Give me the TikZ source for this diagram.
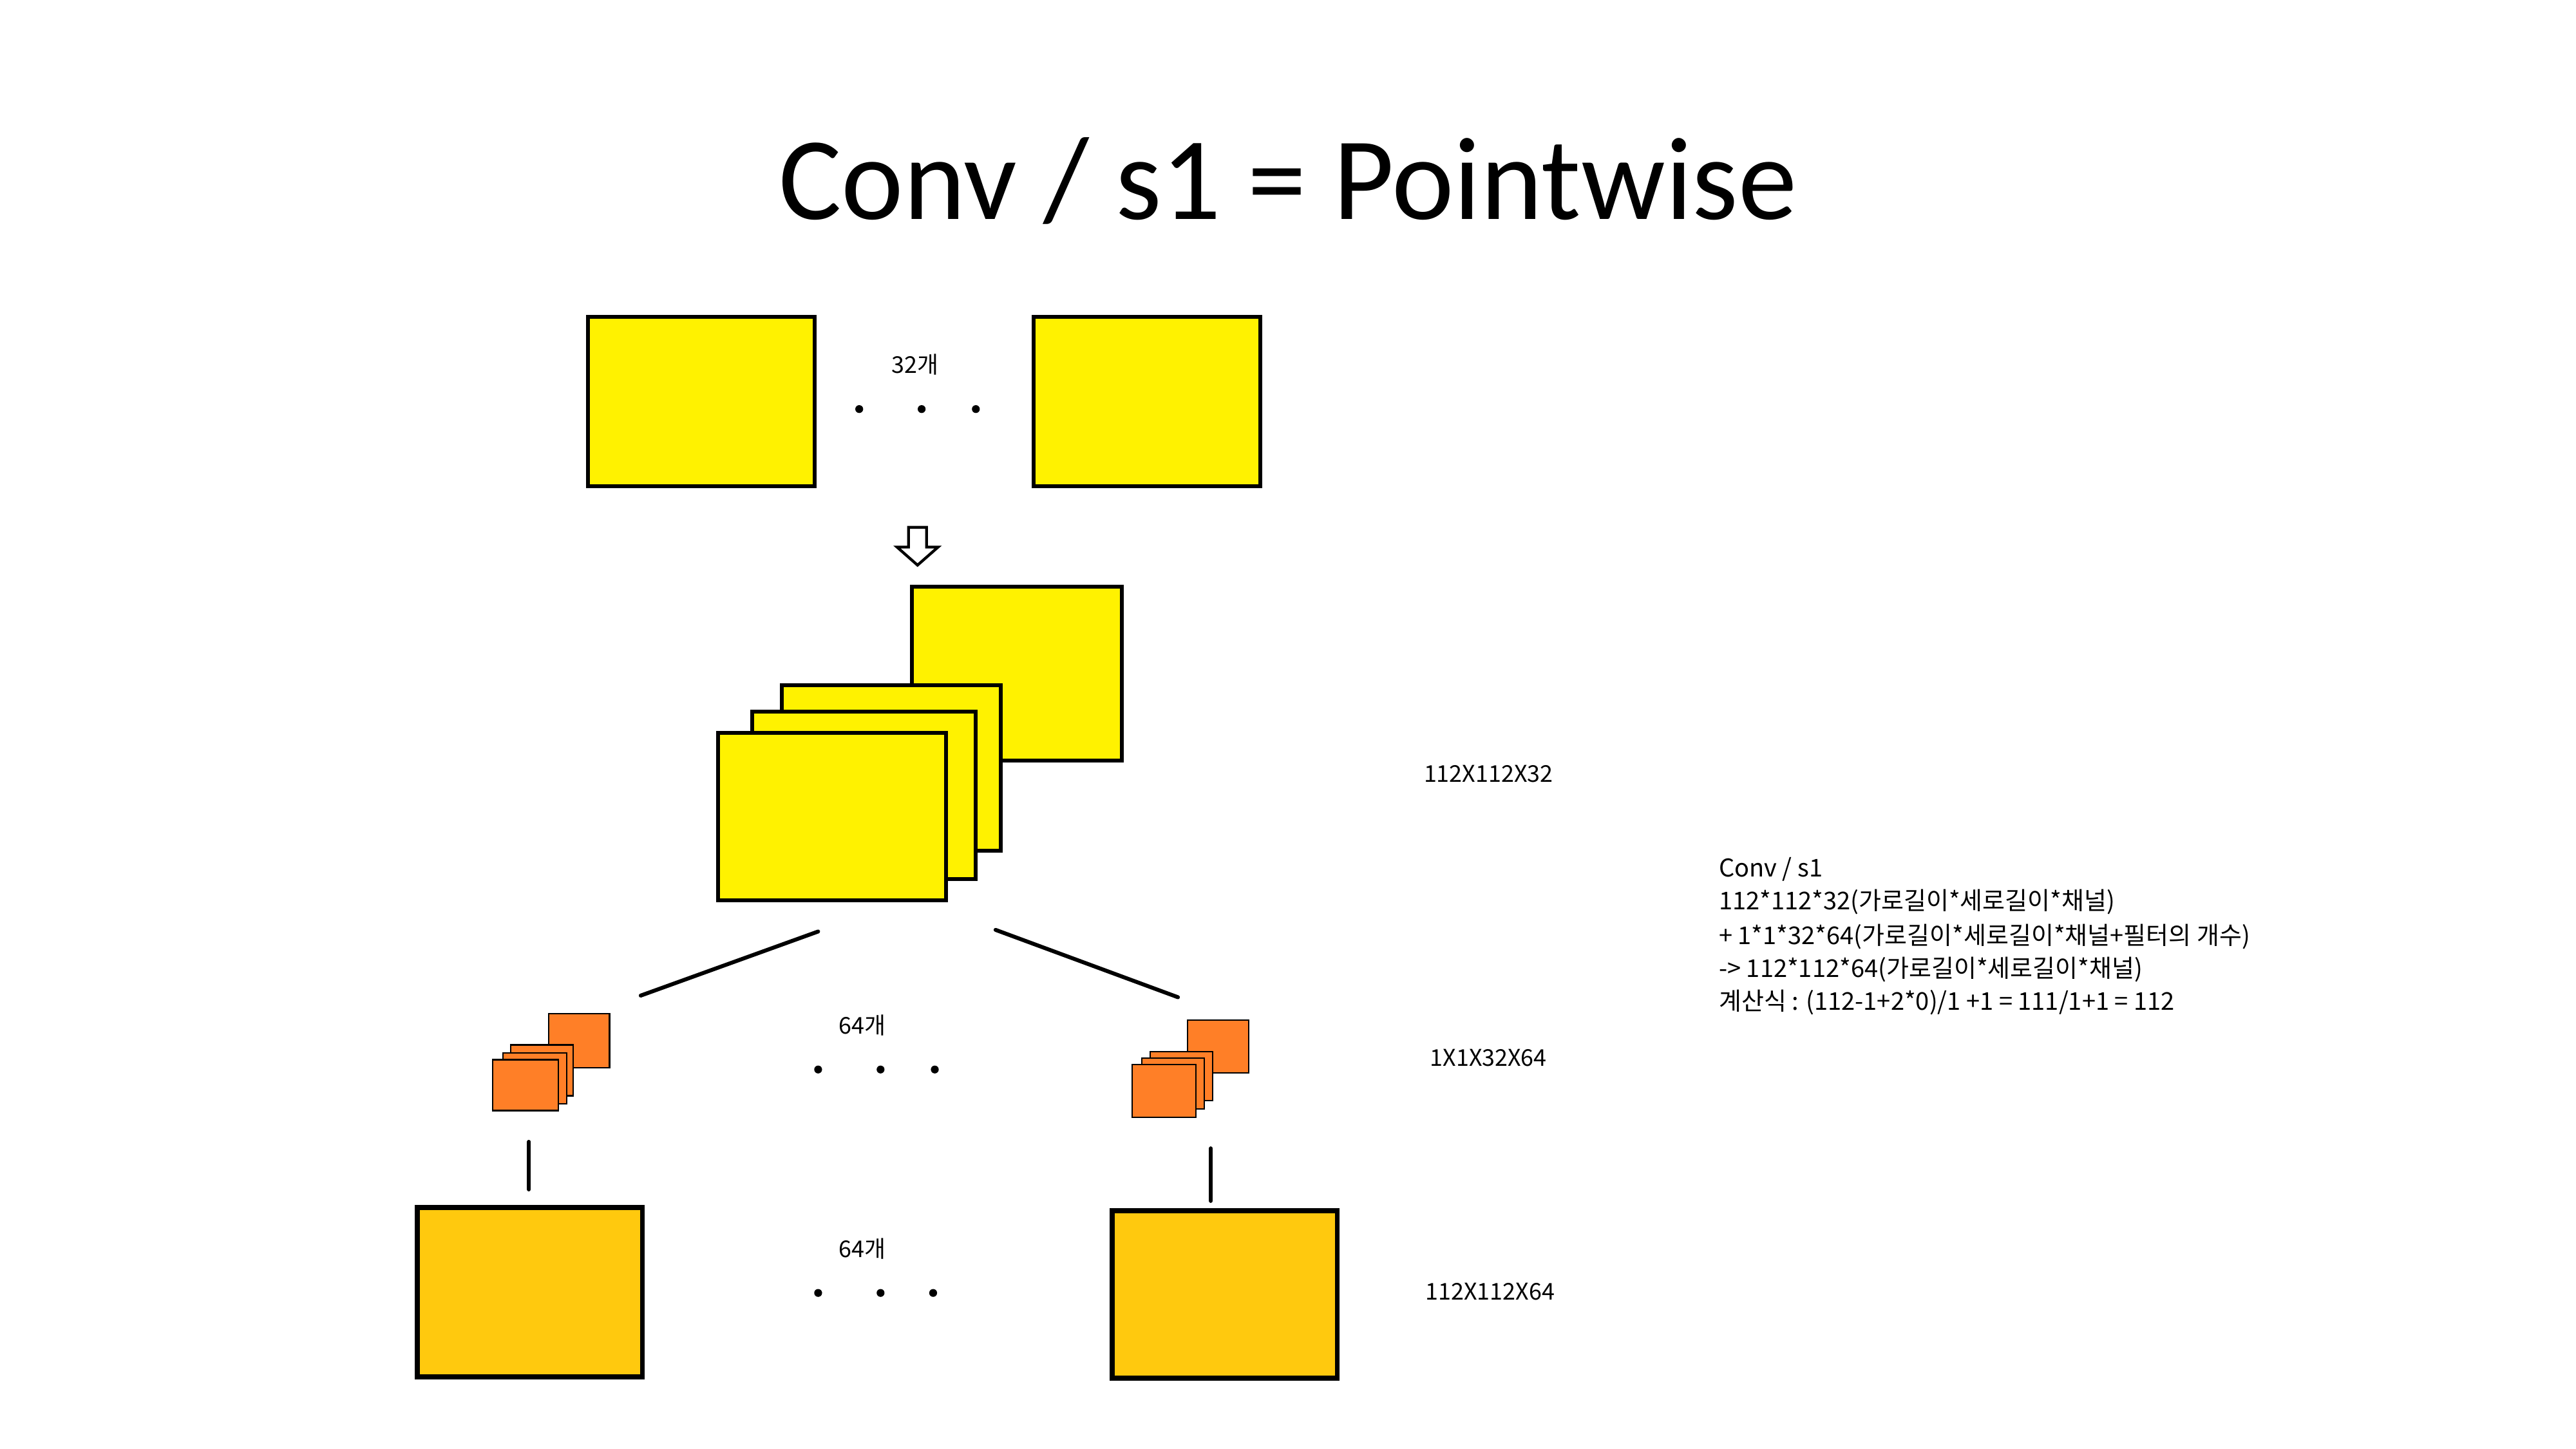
\documentclass[tikz,border=0pt]{standalone}
\usepackage{fontspec}
\setmainfont{Carlito}
\newfontfamily\kr{Noto Sans CJK KR}
\definecolor{ylw}{HTML}{FFF200}
\definecolor{gold}{HTML}{FFC90E}
\definecolor{orng}{HTML}{FF7F27}
\newcommand\mybox[6]{\node[#1, anchor=north west, minimum width={(#5-#3)*0.025cm}, minimum height={(#6-#4)*0.025cm}] (#2) at (#3,#4) {};}
\begin{document}
\begin{tikzpicture}[x=0.025cm,y=-0.025cm,
  ybox/.style={draw=black, fill=ylw, line width=1.7pt, inner sep=0pt, outer sep=0pt},
  gbox/.style={draw=black, fill=gold, line width=2.2pt, inner sep=0pt, outer sep=0pt},
  obox/.style={draw=black, fill=orng, line width=0.6pt, inner sep=0pt, outer sep=0pt},
  conn/.style={line width=1.7pt, line cap=round},
  small/.style={font=\kr\fontsize{10}{12}\selectfont, inner sep=0pt},
  note/.style={font=\kr\fontsize{10.6}{12}\selectfont, inner sep=0pt, anchor=west},
  dotmark/.style={circle, fill=black, inner sep=0pt, minimum size=0.12cm}]
\useasboundingbox (0,0) rectangle (1568,882);
\fill[white] (0,0) rectangle (1568,882);
% title
\node[font=\fontsize{51}{56}\selectfont, inner sep=0pt] (title) at (784,110) {Conv / s1 = Pointwise};
% top boxes
\mybox{ybox}{t1}{358}{193}{496}{296}
\mybox{ybox}{t2}{629}{193}{767}{296}
\node[small] (n32) at (557,222) {32개};
\node[dotmark] (d1) at (523,249) {};
\node[dotmark] (d2) at (561,249) {};
\node[dotmark] (d3) at (594,249) {};
% hollow arrow
\draw[line width=1.2pt, line join=miter, fill=white] (553,321) -- (564,321) -- (564,333) -- (571,333) -- (558.5,344) -- (546,333) -- (553,333) -- cycle;
% stack
\mybox{ybox}{s4}{555}{357}{683}{463}
\mybox{ybox}{s3}{476}{417}{609}{518}
\mybox{ybox}{s2}{458}{433}{594}{535}
\mybox{ybox}{s1}{437}{446}{576}{548}
\node[small] (l1) at (906,471) {112X112X32};
% connectors
\coordinate (c1a) at (498,567);
\coordinate (c1b) at (390,606);
\coordinate (c2a) at (606,566);
\coordinate (c2b) at (717,607);
\draw[conn] (c1a) -- (c1b);
\draw[conn] (c2a) -- (c2b);
% orange stacks left
\mybox{obox}{ol4}{334}{617}{371}{650}
\mybox{obox}{ol3}{311}{636}{349}{667}
\mybox{obox}{ol2}{306}{641}{345}{672}
\mybox{obox}{ol1}{300}{645}{340}{676}
% orange stacks right
\mybox{obox}{or4}{723}{621}{760}{653}
\mybox{obox}{or3}{700}{640}{738}{670}
\mybox{obox}{or2}{695}{644}{733}{675}
\mybox{obox}{or1}{689}{648}{728}{680}
\node[small] (n64a) at (525,624) {64개};
\node[dotmark] (e1) at (498,651) {};
\node[dotmark] (e2) at (536,651) {};
\node[dotmark] (e3) at (569,651) {};
\node[small] (l2) at (906,644) {1X1X32X64};
% vertical connectors
\coordinate (v1a) at (322,695);
\coordinate (v1b) at (322,724);
\coordinate (v2a) at (737,699);
\coordinate (v2b) at (737,731);
\draw[conn] (v1a) -- (v1b);
\draw[conn] (v2a) -- (v2b);
% bottom boxes
\mybox{gbox}{b1}{254}{735}{391}{838}
\mybox{gbox}{b2}{677}{737}{814}{839}
\node[small] (n64b) at (525,760) {64개};
\node[dotmark] (f1) at (498,787) {};
\node[dotmark] (f2) at (536,787) {};
\node[dotmark] (f3) at (568,787) {};
\node[small] (l3) at (907,786) {112X112X64};
% right text
\node[note] (r1) at (1046,529) {Conv / s1};
\node[note] (r2) at (1046,549) {112*112*32(가로길이*세로길이*채널)};
\node[note] (r3) at (1046,570) {+ 1*1*32*64(가로길이*세로길이*채널+필터의 개수)};
\node[note] (r4) at (1046,590) {-> 112*112*64(가로길이*세로길이*채널)};
\node[note] (r5) at (1046,610) {계산식 : (112-1+2*0)/1 +1 = 111/1+1 = 112};
\end{tikzpicture}
\end{document}
